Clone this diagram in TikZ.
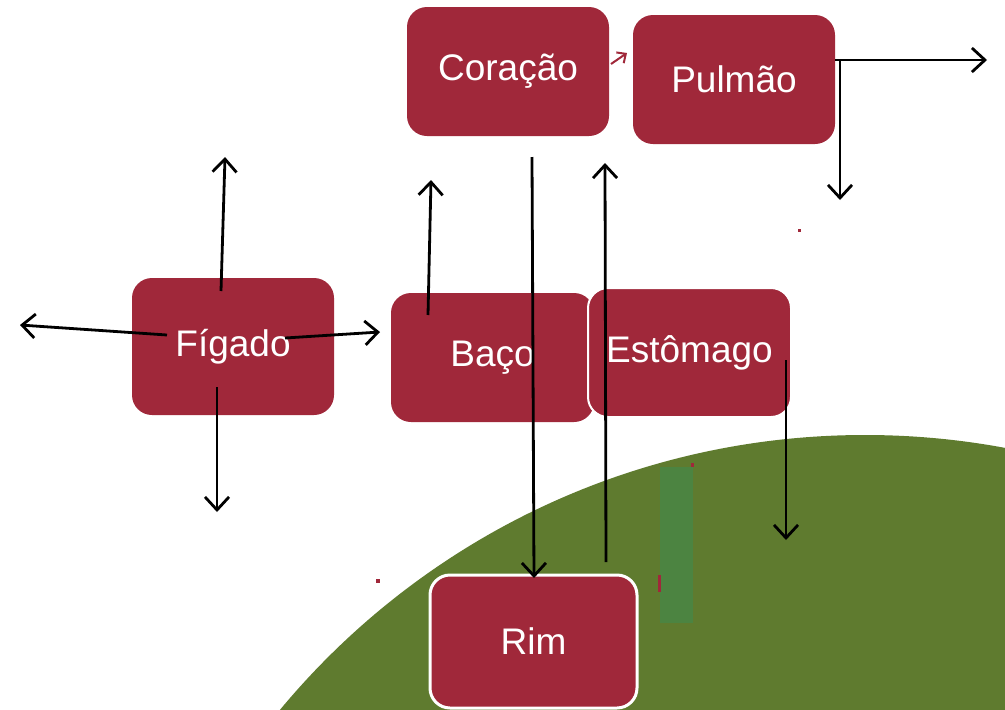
\documentclass[tikz,border=0pt]{standalone}
\usepackage{fontspec}
\setmainfont{Liberation Sans}
\usetikzlibrary{arrows.meta}
\definecolor{organ}{HTML}{A0283A}
\definecolor{hill}{HTML}{5F7B2F}
\definecolor{strip}{HTML}{4C8441}
\tikzset{
  organbox/.style={fill=organ, rounded corners=20pt, text=white,
    font=\fontsize{37}{40}\selectfont, inner sep=0pt, anchor=center},
  flow/.style={line width=2.8pt, black, -{Straight Barb[length=13pt,width=24pt]}},
  smallflow/.style={line width=2pt, organ, -{Straight Barb[length=7pt,width=13pt]}},
}
\begin{document}
\begin{tikzpicture}[x=1pt,y=-1pt]
\useasboundingbox (0,0) rectangle (1005,710);
\begin{scope}
\clip (0,0) rectangle (1005,710);
\fill[hill] (865,1195) circle[radius=760];
\end{scope}
\fill[strip] (660,467) rectangle (693,623);
% tiny red marks
\fill[organ] (798,229) rectangle (801,232);
\fill[organ] (376,579) rectangle (380,583);
\fill[organ] (691,463) rectangle (694,467);
\fill[organ] (658,575) rectangle (661,592);
% boxes
\node[organbox, minimum width=202pt, minimum height=129pt] (cor) at (508,71.5) {\raisebox{-1pt}{Coração}};
\node[organbox, minimum width=202pt, minimum height=129pt] (pul) at (734,79.5) {\raisebox{-1pt}{Pulmão}};
\node[organbox, minimum width=202pt, minimum height=137pt] (fig) at (233,346.5) {\raisebox{-1pt}{Fígado}};
\node[organbox, minimum width=203pt, minimum height=129pt] (baco) at (492.5,357.5) {\raisebox{-1pt}{Baço}};
\node[organbox, draw=white, line width=2pt, minimum width=203pt, minimum height=129pt] (est) at (689.5,352.5) {\raisebox{-1pt}{Estômago}};
\node[organbox, draw=white, line width=3pt, minimum width=207pt, minimum height=133pt] (rim) at (533.5,641.5) {Rim};
% coordinates
\coordinate (figU0) at (221,291); \coordinate (figU1) at (225,157);
\coordinate (figL0) at (167,335); \coordinate (figL1) at (20,325);
\coordinate (figR0) at (285,338); \coordinate (figR1) at (380,332);
\coordinate (figD0) at (217,387); \coordinate (figD1) at (217,512);
\coordinate (bacU0) at (428,315); \coordinate (bacU1) at (431,180);
\coordinate (corD0) at (532,157); \coordinate (rimT) at (534,578);
\coordinate (rimU0) at (606,562); \coordinate (corB) at (605,163);
\coordinate (corR) at (611,64); \coordinate (pulL) at (627,53);
\coordinate (pulR0) at (835,60); \coordinate (pulR1) at (987,60);
\coordinate (pulD0) at (840,60); \coordinate (pulD1) at (840,200);
\coordinate (estD0) at (786,360); \coordinate (estD1) at (786,540);
% connectors
\draw[flow] (figU0) -- (figU1);
\draw[flow] (figL0) -- (figL1);
\draw[flow] (figR0) -- (figR1);
\draw[flow] (figD0) -- (figD1);
\draw[flow] (bacU0) -- (bacU1);
\draw[flow] (corD0) -- (rimT);
\draw[flow] (rimU0) -- (corB);
\draw[smallflow] (corR) -- (pulL);
\draw[flow] (pulR0) -- (pulR1);
\draw[flow] (pulD0) -- (pulD1);
\draw[flow] (estD0) -- (estD1);
\end{tikzpicture}
\end{document}
